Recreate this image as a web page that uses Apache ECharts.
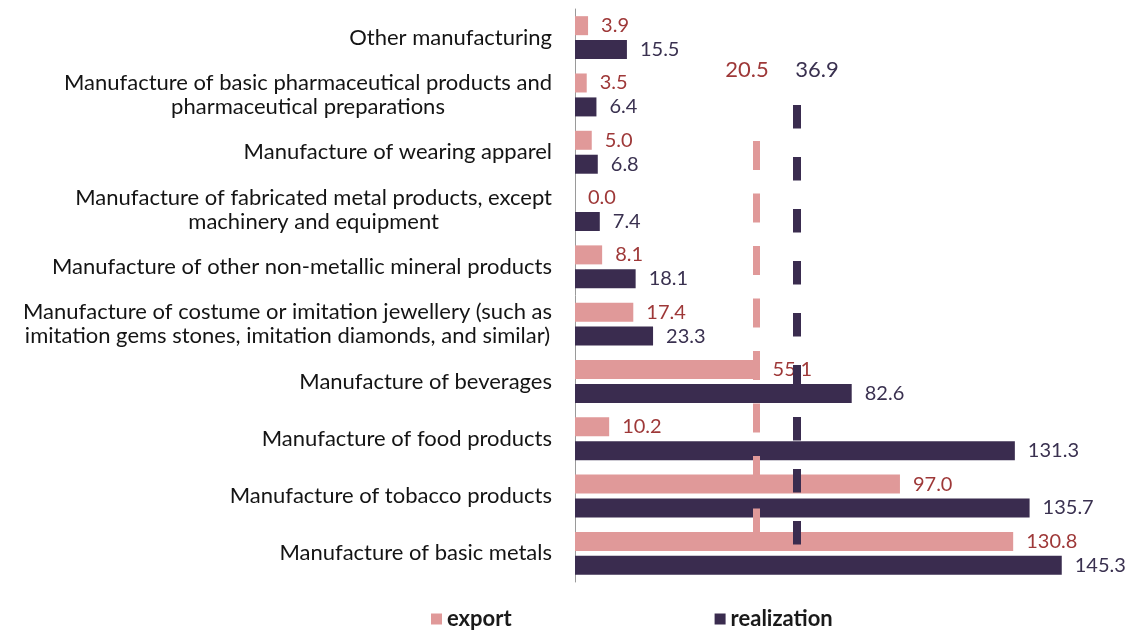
<!DOCTYPE html>
<html>
<head>
<meta charset="utf-8">
<script src="https://cdn.jsdelivr.net/npm/echarts@6/dist/echarts.min.js"></script>
<style>
html,body{margin:0;padding:0;background:#fff;}
#chart{width:1131px;height:633px;}
</style>
</head>
<body>
<div id="chart"></div>
<script>
var categories = [
  'Other manufacturing',
  'Manufacture of basic pharmaceutical products and\npharmaceutical preparations',
  'Manufacture of wearing apparel',
  'Manufacture of fabricated metal products, except\nmachinery and equipment',
  'Manufacture of other non-metallic mineral products',
  'Manufacture of costume or imitation jewellery (such as\nimitation gems stones, imitation diamonds, and similar)',
  'Manufacture of beverages',
  'Manufacture of food products',
  'Manufacture of tobacco products',
  'Manufacture of basic metals'
];
var exportValues = [3.9, 3.5, 5.0, 0.0, 8.1, 17.4, 55.1, 10.2, 97.0, 130.8];
var realizationValues = [15.5, 6.4, 6.8, 7.4, 18.1, 23.3, 82.6, 131.3, 135.7, 145.3];
var averageValues = [20.5, 36.9];
var seriesNames = ['export', 'realization'];

var PINK = '#e09999';
var DARK = '#3a2c4f';
var PINK_TXT = '#9e3838';
var DARK_TXT = '#3a3150';
var FONT = 'Lato';

var chart = echarts.init(document.getElementById('chart'), null, {renderer: 'canvas'});
var option = {
  animation: false,
  backgroundColor: '#ffffff',
  textStyle: {fontFamily: FONT},
  grid: {left: 575, right: 20, top: 9, bottom: 51},
  legend: {
    data: seriesNames,
    left: 426, top: 603,
    itemGap: 203, itemWidth: 11, itemHeight: 11,
    icon: 'rect',
    textStyle: {fontFamily: FONT, fontSize: 22, color: '#1a1a1a', fontWeight: 'bold'}
  },
  xAxis: [
    {type: 'value', min: 0, max: 160, show: false, splitLine: {show: false}},
    {type: 'value', min: -51.9, max: 162.5, show: false, splitLine: {show: false}}
  ],
  yAxis: [{
    type: 'category',
    inverse: true,
    data: categories,
    axisLine: {show: true, lineStyle: {color: '#9a9a9a', width: 1}},
    axisTick: {show: false},
    splitLine: {show: false},
    axisLabel: {
      margin: 23,
      fontFamily: FONT,
      fontSize: 22,
      color: '#141414',
      lineHeight: 24,
      formatter: function (v) {
        return v.split('\n').map(function (l) { return '{c|' + l + '}'; }).join('\n');
      },
      rich: {c: {align: 'center', fontFamily: FONT, fontSize: 22, color: '#141414', lineHeight: 24}}
    }
  }, {
    type: 'value', min: 0, max: 1, inverse: true, show: false, splitLine: {show: false}
  }],
  series: [
    {
      name: seriesNames[0], type: 'bar', data: exportValues,
      barWidth: 19, barGap: '26%',
      itemStyle: {color: PINK},
      label: {show: true, position: 'right', distance: 13, fontFamily: FONT, fontSize: 20, color: PINK_TXT,
        formatter: function (p) { return p.value.toFixed(1); }}
    },
    {
      name: seriesNames[1], type: 'bar', data: realizationValues,
      barWidth: 19, barGap: '26%',
      itemStyle: {color: DARK},
      label: {show: true, position: 'right', distance: 13, fontFamily: FONT, fontSize: 20, color: DARK_TXT,
        formatter: function (p) { return p.value.toFixed(1); }}
    },
    {
      name: 'averages', type: 'line', xAxisIndex: 1, yAxisIndex: 1, data: [],
      silent: true, z: 5,
      markLine: {
        silent: true, symbol: ['none', 'none'],
        label: {show: false},
        data: [
          [{coord: [averageValues[0], 0.2304], lineStyle: {color: PINK, width: 7, type: [29, 23.5], cap: 'butt'}},
           {coord: [averageValues[0], 0.9127]}],
          [{coord: [averageValues[1], 0.1675], lineStyle: {color: DARK, width: 8, type: [23.5, 28.5], cap: 'butt'}},
           {coord: [averageValues[1], 0.9442]}]
        ]
      },
      markPoint: {
        silent: true, symbol: 'circle', symbolSize: 0,
        data: [
          {coord: [averageValues[0], 0.1065], value: averageValues[0],
            label: {show: true, position: 'inside', offset: [-9, 0], fontFamily: FONT, fontSize: 22, color: PINK_TXT,
              formatter: function (p) { return p.value.toFixed(1); }}},
          {coord: [averageValues[1], 0.1065], value: averageValues[1],
            label: {show: true, position: 'inside', offset: [20, 0], fontFamily: FONT, fontSize: 22, color: DARK_TXT,
              formatter: function (p) { return p.value.toFixed(1); }}}
        ]
      }
    }
  ]
};
chart.setOption(option);
</script>
</body>
</html>
